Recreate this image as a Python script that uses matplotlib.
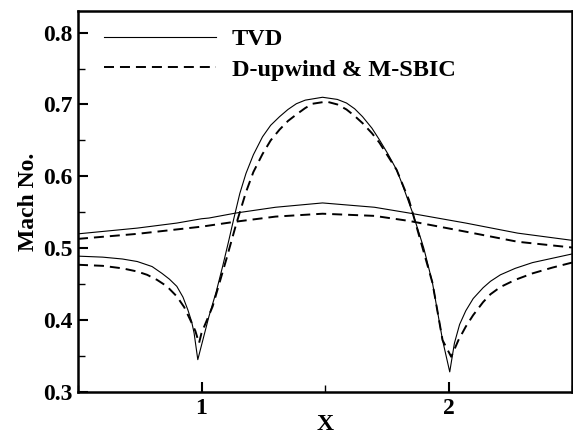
import matplotlib
matplotlib.use("Agg")
import matplotlib.pyplot as plt
from matplotlib.ticker import MultipleLocator

plt.rcParams["font.family"] = ["Liberation Serif", "DejaVu Serif"]
plt.rcParams["font.weight"] = "bold"
plt.rcParams["lines.scale_dashes"] = False

# TVD solution
tvd_low_x = [0.5, 0.6, 0.68, 0.74, 0.8, 0.84, 0.87, 0.9, 0.925, 0.945, 0.96, 0.97,
             0.985, 1.0, 1.015, 1.03, 1.06, 1.085, 1.11, 1.13, 1.155, 1.18, 1.21,
             1.247, 1.28, 1.316, 1.35, 1.384, 1.42, 1.49, 1.55, 1.587, 1.62, 1.652,
             1.69, 1.72, 1.755, 1.79, 1.815, 1.84, 1.855, 1.90, 1.935, 1.976, 2.005,
             2.024, 2.045, 2.07, 2.10, 2.14, 2.17, 2.21, 2.27, 2.34, 2.42, 2.5]
tvd_low_y = [0.489, 0.4876, 0.485, 0.4815, 0.4745, 0.465, 0.457, 0.447, 0.432, 0.414,
             0.398, 0.382, 0.345, 0.365, 0.385, 0.405, 0.44, 0.474, 0.51, 0.54,
             0.576, 0.604, 0.630, 0.655, 0.671, 0.683, 0.693, 0.701, 0.706, 0.710,
             0.707, 0.702, 0.694, 0.683, 0.667, 0.651, 0.631, 0.609, 0.587, 0.563,
             0.549, 0.50, 0.452, 0.372, 0.328, 0.368, 0.394, 0.413, 0.430, 0.445,
             0.454, 0.463, 0.472, 0.480, 0.486, 0.492]
tvd_up_x = [0.5, 0.74, 0.9, 1.0, 1.03, 1.14, 1.3, 1.49, 1.7, 1.84, 2.07, 2.28, 2.5]
tvd_up_y = [0.520, 0.528, 0.535, 0.541, 0.542, 0.549, 0.557, 0.563, 0.557, 0.549,
            0.535, 0.521, 0.511]

# D-upwind & M-SBIC solution
dup_low_x = [0.5, 0.6, 0.68, 0.74, 0.78, 0.82, 0.86, 0.9, 0.93, 0.955, 0.975, 0.99,
             1.0, 1.045, 1.10, 1.14, 1.18, 1.21, 1.247, 1.28, 1.316, 1.35, 1.384,
             1.42, 1.45, 1.506, 1.55, 1.587, 1.62, 1.652, 1.69, 1.72, 1.755, 1.79,
             1.815, 1.84, 1.855, 1.935, 1.976, 2.011, 2.04, 2.07, 2.10, 2.14, 2.17,
             2.21, 2.27, 2.34, 2.42, 2.5]
dup_low_y = [0.477, 0.4755, 0.472, 0.4676, 0.463, 0.456, 0.447, 0.433, 0.418, 0.400,
             0.385, 0.368, 0.382, 0.419, 0.484, 0.533, 0.578, 0.606, 0.631, 0.650,
             0.665, 0.677, 0.686, 0.695, 0.701, 0.704, 0.700, 0.693, 0.684, 0.674,
             0.660, 0.647, 0.628, 0.609, 0.588, 0.567, 0.549, 0.452, 0.372, 0.349,
             0.372, 0.391, 0.407, 0.425, 0.436, 0.446, 0.456, 0.465, 0.473, 0.480]
dup_up_x = [0.5, 0.74, 1.0, 1.14, 1.3, 1.49, 1.7, 1.84, 2.07, 2.28, 2.5]
dup_up_y = [0.513, 0.520, 0.530, 0.537, 0.544, 0.548, 0.545, 0.538, 0.523, 0.509, 0.501]

fig = plt.figure(figsize=(5.73, 4.34), dpi=100)
ax = fig.add_axes([78 / 573, 1 - 392 / 434, 494 / 573, 381 / 434])

dash = (0, (7.2, 4.3))
ax.plot(tvd_low_x, tvd_low_y, color="black", lw=0.8, label="TVD")
ax.plot(tvd_up_x, tvd_up_y, color="black", lw=0.8)
ax.plot(dup_low_x, dup_low_y, color="black", lw=1.4, linestyle=dash,
        label="D-upwind & M-SBIC")
ax.plot(dup_up_x, dup_up_y, color="black", lw=1.4, linestyle=dash)

ax.set_xlim(0.5, 2.5)
ax.set_ylim(0.3, 0.83)
ax.xaxis.set_major_locator(MultipleLocator(1))
ax.xaxis.set_minor_locator(MultipleLocator(0.5))
ax.yaxis.set_major_locator(MultipleLocator(0.1))
ax.yaxis.set_minor_locator(MultipleLocator(0.05))
ax.tick_params(which="both", direction="in", top=False, right=False,
               labelsize=17)
ax.tick_params(which="major", length=7.5, width=1.5, pad=4)
ax.tick_params(which="minor", length=5, width=1.0)
for s in ax.spines.values():
    s.set_linewidth(1.8)

ax.set_xlabel("X", fontsize=17, fontweight="bold", labelpad=-3)
ax.set_ylabel("Mach No.", fontsize=17, fontweight="bold", labelpad=3)

ax.legend(loc="upper left", bbox_to_anchor=(0.053, 0.955), frameon=False,
          fontsize=17.5, handlelength=4.6, handletextpad=0.65,
          labelspacing=0.35, borderpad=0, borderaxespad=0)

fig.savefig("out.png", dpi=100)
